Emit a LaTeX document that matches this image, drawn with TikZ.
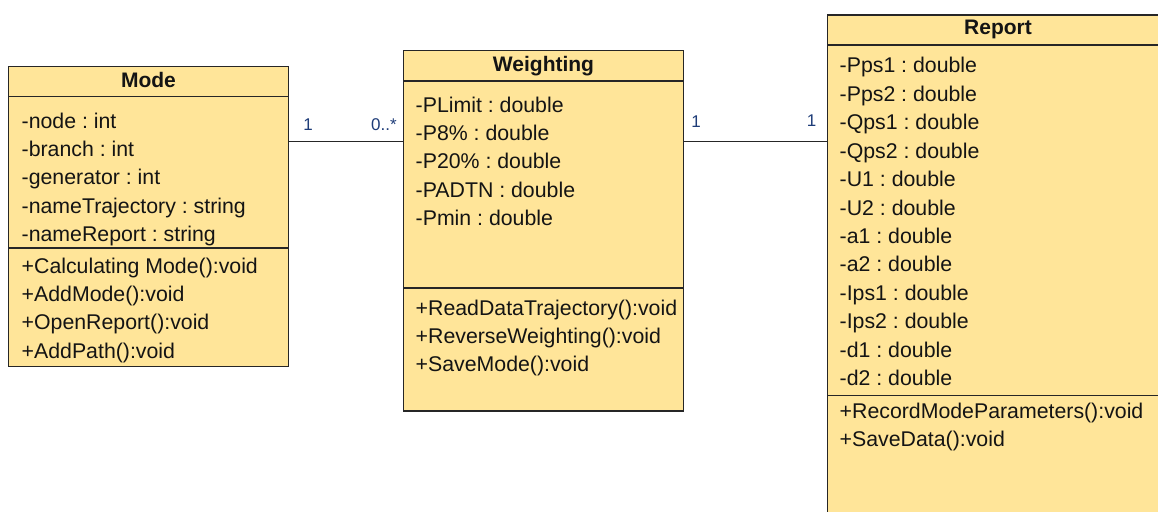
\documentclass[tikz,border=0pt]{standalone}
\usepackage{fontspec}
\setmainfont{Liberation Sans}
\definecolor{classfill}{RGB}{255,229,153}
\definecolor{txt}{RGB}{20,20,20}
\definecolor{lbl}{RGB}{30,60,120}
\frenchspacing
\begin{document}
\begin{tikzpicture}[x=1pt,y=-1pt,
  classbox/.style={draw=black!85,line width=1.6pt,fill=classfill,anchor=north west,inner sep=0pt,outer sep=0pt},
  sep/.style={draw=black!85,line width=1.5pt},
  member/.style={anchor=base west,inner sep=0pt,text=txt,font=\fontsize{21.3}{24}\selectfont},
  title/.style={anchor=base,inner sep=0pt,text=txt,font=\fontsize{21}{24}\selectfont\bfseries},
  mult/.style={anchor=base,inner sep=0pt,text=lbl,font=\fontsize{17}{20}\selectfont},
  assoc/.style={draw=black!85,line width=1.5pt}]
\useasboundingbox (0,0) rectangle (1158,511);
\clip (0,0) rectangle (1158,511);

% Mode
\node[classbox,minimum width=280,minimum height=300] (mode) at (8.5,66.5) {};
\draw[sep] (8.5,96.7) -- (288.5,96.7);
\draw[sep] (8.5,248) -- (288.5,248);
\node[title] (modet) at (148.5,87) {Mode};
\node[member] (m1) at (21.5,128) {-node : int};
\node[member] (m2) at (21.5,156.4) {-branch : int};
\node[member] (m3) at (21.5,184.8) {-generator : int};
\node[member] (m4) at (21.5,213.2) {-nameTrajectory : string};
\node[member] (m5) at (21.5,241.6) {-nameReport : string};
\node[member] (m6) at (21.5,273) {+Calculating Mode():void};
\node[member] (m7) at (21.5,301.4) {+AddMode():void};
\node[member] (m8) at (21.5,329.8) {+OpenReport():void};
\node[member] (m9) at (21.5,358.2) {+AddPath():void};

% Weighting
\node[classbox,minimum width=280,minimum height=360] (weight) at (403.5,50.7) {};
\draw[sep] (403.5,81) -- (683.5,81);
\draw[sep] (403.5,288) -- (683.5,288);
\node[title] (weightt) at (543.5,71) {Weighting};
\node[member] (w1) at (415.5,112) {-PLimit : double};
\node[member] (w2) at (415.5,140.4) {-P8\% : double};
\node[member] (w3) at (415.5,168.8) {-P20\% : double};
\node[member] (w4) at (415.5,197.2) {-PADTN : double};
\node[member] (w5) at (415.5,225.6) {-Pmin : double};
\node[member] (w6) at (415.5,315) {+ReadDataTrajectory():void};
\node[member] (w7) at (415.5,343.4) {+ReverseWeighting():void};
\node[member] (w8) at (415.5,371.8) {+SaveMode():void};

% Report
\node[classbox,minimum width=360,minimum height=520] (report) at (827.5,15) {};
\draw[sep] (827.5,45) -- (1190,45);
\draw[sep] (827.5,395.6) -- (1190,395.6);
\node[title] (reportt) at (998,35) {Report};
\node[member] (r1) at (839.5,73) {-Pps1 : double};
\node[member] (r2) at (839.5,101.4) {-Pps2 : double};
\node[member] (r3) at (839.5,129.8) {-Qps1 : double};
\node[member] (r4) at (839.5,158.2) {-Qps2 : double};
\node[member] (r5) at (839.5,186.6) {-U1 : double};
\node[member] (r6) at (839.5,215) {-U2 : double};
\node[member] (r7) at (839.5,243.4) {-a1 : double};
\node[member] (r8) at (839.5,271.8) {-a2 : double};
\node[member] (r9) at (839.5,300.2) {-Ips1 : double};
\node[member] (r10) at (839.5,328.6) {-Ips2 : double};
\node[member] (r11) at (839.5,357) {-d1 : double};
\node[member] (r12) at (839.5,385.4) {-d2 : double};
\node[member] (r13) at (839.5,418) {+RecordModeParameters():void};
\node[member] (r14) at (839.5,446.4) {+SaveData():void};

% associations
\coordinate (ly) at (0,141.7);
\draw[assoc] (mode.east |- ly) -- (weight.west |- ly);
\draw[assoc] (weight.east |- ly) -- (report.west |- ly);
\node[mult] (a1) at (308,130) {1};
\node[mult] (a2) at (384,130) {0..*};
\node[mult] (a3) at (696,127) {1};
\node[mult] (a4) at (811.5,126) {1};
\end{tikzpicture}
\end{document}
